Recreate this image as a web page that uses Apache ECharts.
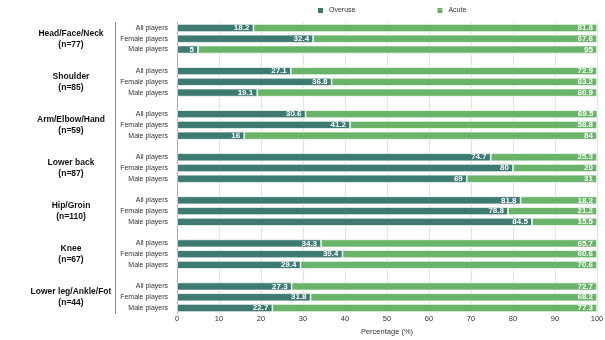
<!DOCTYPE html>
<html><head><meta charset="utf-8">
<script src="https://cdn.jsdelivr.net/npm/echarts@6/dist/echarts.min.js"></script>
<style>html,body{margin:0;padding:0;background:#fff}#c{width:605px;height:340px}</style>
</head><body><div id="c"></div>
<script>
const groups = ["Head/Face/Neck\n(n=77)", "Shoulder\n(n=85)", "Arm/Elbow/Hand\n(n=59)", "Lower back\n(n=87)", "Hip/Groin\n(n=110)", "Knee\n(n=67)", "Lower leg/Ankle/Fot\n(n=44)"];
const players = ["All players", "Female players", "Male players"];
const overuse = [[18.2,32.4,5],[27.1,36.8,19.1],[30.6,41.2,16],[74.7,80,69],[81.8,78.8,84.5],[34.3,39.4,29.4],[27.3,31.8,22.7]];
const acute = [[81.8,67.6,95],[72.9,63.2,80.9],[69.5,58.8,84],[25.3,20,31],[18.2,21.2,15.5],[65.7,60.6,70.6],[72.7,68.2,77.3]];
const xTicks = [0,10,20,30,40,50,60,70,80,90,100];

const cats = [], groupCats = [], ov = [], ac = [];
groups.forEach((g, gi) => {
  players.forEach((p, pi) => {
    cats.push(p + '#' + gi);
    groupCats.push(pi === 1 ? g : 'x' + gi + pi);
    ov.push(overuse[gi][pi]);
    ac.push(acute[gi][pi]);
  });
  if (gi < groups.length - 1) { cats.push('gap' + gi); groupCats.push('gap' + gi); ov.push(null); ac.push(null); }
});

const chart = echarts.init(document.getElementById('c'));
const lbl = {show:true, position:'insideRight', color:'#fff', fontSize:8, fontWeight:'bold', fontFamily:'Liberation Sans', offset:[1,0]};
chart.setOption({
  animation:false,
  textStyle:{fontFamily:'Liberation Sans'},
  legend:{left:311, top:1, itemWidth:7, itemHeight:7, itemGap:80, icon:'rect',
    textStyle:{fontSize:7, color:'#333'}, data:['Overuse','Acute']},
  grid:{left:177, right:8, top:22.6, bottom:26.6, containLabel:false, outerBoundsMode:'none'},
  xAxis:{type:'value', min:0, max:100, interval:10,
    axisLabel:{fontSize:7.5, color:'#333', margin:2, formatter:v => xTicks.includes(v) ? String(v) : ''},
    splitLine:{lineStyle:{color:'#e3e3e3', width:1.2}},
    axisLine:{show:false}, axisTick:{show:false},
    name:'Percentage (%)', nameLocation:'middle', nameGap:14, nameTextStyle:{fontSize:7.5, color:'#333'}},
  yAxis:[
    {type:'category', data:cats, inverse:true, position:'left',
      axisLine:{show:true, lineStyle:{color:'#aaa'}}, axisTick:{show:false},
      axisLabel:{fontSize:7, color:'#333', margin:9, interval:0, formatter:v => v.startsWith('gap') ? '' : v.split('#')[0]}},
    {type:'category', data:groupCats, inverse:true, position:'left', offset:62,
      axisLine:{show:true, lineStyle:{color:'#888'}}, axisTick:{show:false},
      axisLabel:{interval:0, align:'center', margin:44, fontSize:8.5, fontWeight:'bold', color:'#111', lineHeight:11,
        formatter:v => v.includes('\n') ? v : ''}}
  ],
  series:[
    {name:'Overuse', type:'bar', stack:'s', data:ov, barWidth:8, yAxisIndex:0,
      itemStyle:{color:'#3d7a72', borderColor:'#fff', borderWidth:0.7}, label:lbl},
    {name:'Acute', type:'bar', stack:'s', data:ac, barWidth:8, yAxisIndex:0,
      itemStyle:{color:'#6ab46a', borderColor:'#fff', borderWidth:0.7}, label:lbl}
  ]
});
</script></body></html>
